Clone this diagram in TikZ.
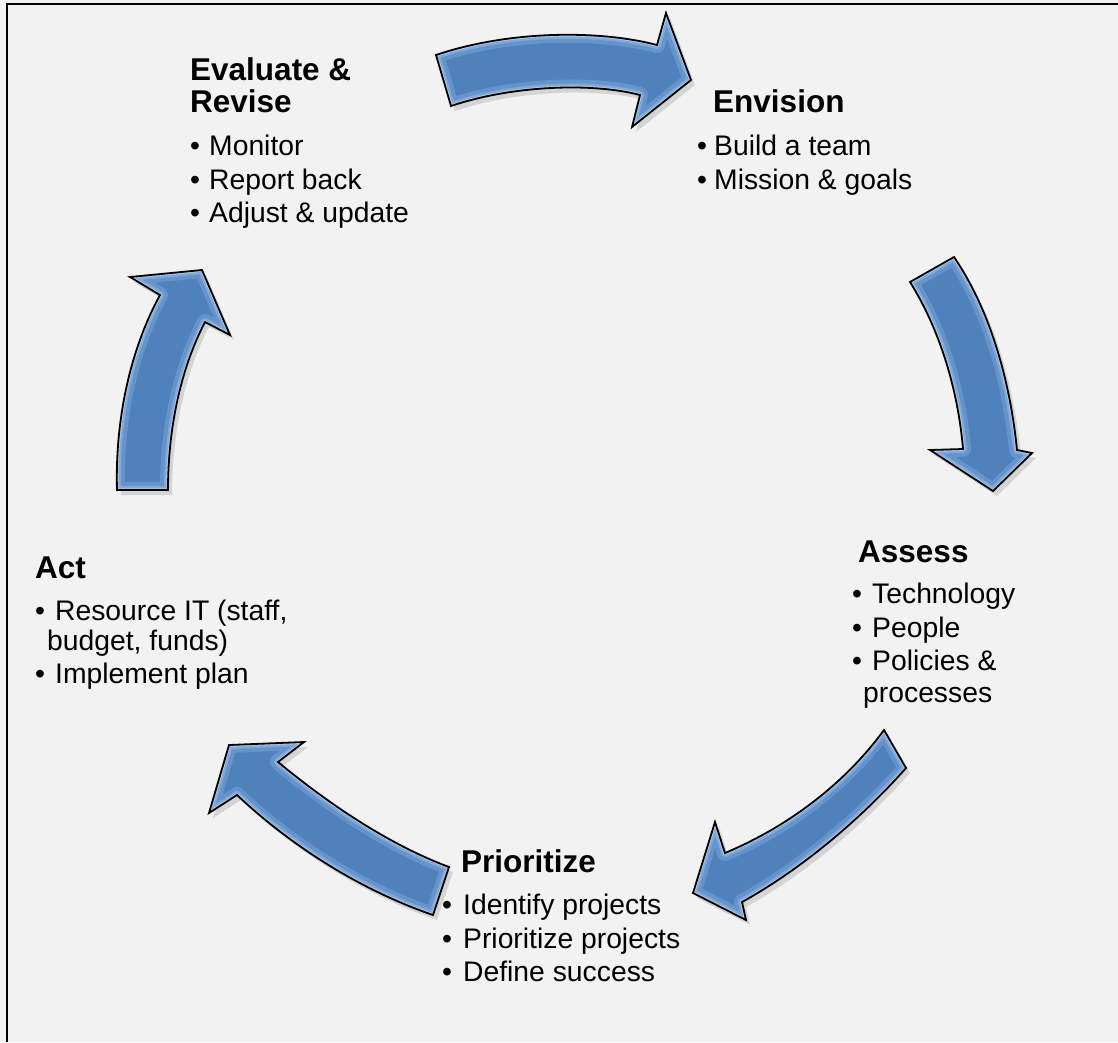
\documentclass[tikz,border=0pt]{standalone}
\usepackage{fontspec}
\setmainfont{Liberation Sans}
\definecolor{bg}{HTML}{F2F2F2}
\definecolor{arrowblue}{HTML}{4F81BD}
\definecolor{bevelc}{HTML}{A9CBF2}
\newcommand\glossyarrow[1]{%
  \fill[black,opacity=0.12,shift={(4,5)}] #1;
  \fill[arrowblue] #1;
  \begin{scope}
    \clip #1;
    \draw[line width=16,bevelc,opacity=0.25,line join=round] #1;
    \draw[line width=8,bevelc,opacity=0.4,line join=round] #1;
    \draw[line width=3.5,white,opacity=0.4,line join=round] #1;
  \end{scope}
  \draw[line width=1.8,black,line join=miter] #1;
}
\newcommand\bul[1]{\makebox[#1][l]{•}}
\tikzset{
  ttl/.style={anchor=base west,inner sep=0,font=\fontsize{31.5}{36}\selectfont\bfseries},
  itm/.style={anchor=base west,inner sep=0,font=\fontsize{28.3}{32}\selectfont}
}
\begin{document}
\begin{tikzpicture}[x=1pt,y=-1pt]
\fill[bg] (0,0) rectangle (1118,1042);
\useasboundingbox (0,0) rectangle (1118,1042);
\draw[line width=2.5] (7,1042) -- (7,4) -- (1118,4);

% arrows
\glossyarrow{(436,55) .. controls (510,30) and (600,30) .. (657,45) -- (666,13) -- (691,80) -- (632,127) -- (640,95) .. controls (590,82) and (510,86) .. (451,106) -- cycle}
\glossyarrow{(910,282) -- (954,257) .. controls (990,310) and (1010,380) .. (1017,450) -- (1032,453) -- (993,491) -- (930,450) -- (963,449) .. controls (958,390) and (940,330) .. (910,282) -- cycle}
\glossyarrow{(884,730) -- (906,768) .. controls (860,820) and (800,870) .. (742,902) -- (746,920) -- (693,893) -- (715,822) -- (725,853) .. controls (780,830) and (840,790) .. (884,730) -- cycle}
\glossyarrow{(229,745) -- (304,742) -- (278,762) .. controls (330,805) and (390,845) .. (449,867) -- (433,915) .. controls (360,890) and (290,845) .. (237,795) -- (209,813) -- cycle}
\glossyarrow{(117,490) .. controls (115,420) and (130,350) .. (160,295) -- (130,277) -- (202,270) -- (230,335) -- (205,322) .. controls (180,370) and (168,430) .. (168,490) -- cycle}

% Evaluate & Revise
\node[ttl] (evt1) at (190,80) {Evaluate \&};
\node[ttl] (evt2) at (190,112) {Revise};
\node[itm] (ev1) at (190,155) {\bul{19pt}Monitor};
\node[itm] (ev2) at (190,189) {\bul{19pt}Report back};
\node[itm] (ev3) at (190,222) {\bul{19pt}Adjust \& update};

% Envision
\node[ttl] (ent) at (713,112) {Envision};
\node[itm] (en1) at (697,155) {\bul{17pt}Build a team};
\node[itm] (en2) at (697,189) {\bul{17pt}Mission \& goals};

% Assess
\node[ttl] (ast) at (858,562) {Assess};
\node[itm] (as1) at (852,603) {\bul{20pt}Technology};
\node[itm] (as2) at (852,637) {\bul{20pt}People};
\node[itm] (as3) at (852,670) {\bul{20pt}Policies \&};
\node[itm] (as4) at (863,702) {processes};

% Prioritize
\node[ttl] (prt) at (461,872) {Prioritize};
\node[itm] (pr1) at (442,914) {\bul{21pt}Identify projects};
\node[itm] (pr2) at (442,948) {\bul{21pt}Prioritize projects};
\node[itm] (pr3) at (442,981) {\bul{21pt}Define success};

% Act
\node[ttl] (act) at (35,578) {Act};
\node[itm] (ac1) at (35,620) {\bul{20pt}Resource IT (staff,};
\node[itm] (ac2) at (47,650) {budget, funds)};
\node[itm] (ac3) at (35,683) {\bul{20pt}Implement plan};
\end{tikzpicture}
\end{document}
